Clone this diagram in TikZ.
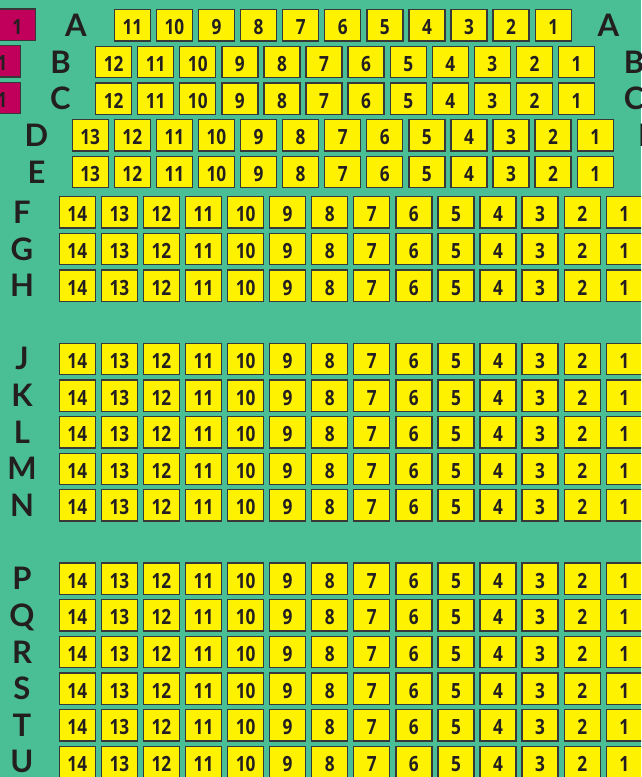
\documentclass[tikz,border=0pt]{standalone}
\usepackage{fontspec}
\usepackage{graphicx}
\setmainfont{Lato}
\newfontfamily\seatfont{Open Sans}
\definecolor{bg}{HTML}{4ABF95}
\definecolor{seaty}{HTML}{FFF200}
\definecolor{seatm}{HTML}{C0005A}
\definecolor{edge}{HTML}{383838}
\definecolor{ink}{HTML}{231F20}
\tikzset{
  seatbox/.style={draw=edge, line width=1.3pt, fill=seaty, minimum width=36pt, minimum height=31.3pt,
    inner sep=0pt, outer sep=0pt, text height=19pt, text depth=0pt, text=ink,
    font=\seatfont\fontsize{21}{21}\selectfont\bfseries},
  vipbox/.style={seatbox, fill=seatm},
  rowlbl/.style={anchor=base, inner sep=0pt, text=ink, font=\fontsize{31}{31}\selectfont\bfseries},
}
\newcommand{\seatnum}[1]{\scalebox{0.82}[1]{#1}}
\begin{document}
\begin{tikzpicture}[x=1pt,y=-1pt]
\fill[bg] (0,0) rectangle (641,777);
\useasboundingbox (0,0) rectangle (641,777);
\clip (0,0) rectangle (641,777);
% reserved seats (left, partly cut off)
\node[vipbox] (vA) at (17.2,24.5) {\seatnum{1}};
\node[vipbox] (vB) at (2.2,61.2) {\seatnum{1}};
\node[vipbox] (vC) at (2.2,97.9) {\seatnum{1}};
% seat rows: row / top / seats / left x of seat 1 / left label x / right label x
\foreach \r/\yt/\n/\xo/\lx/\rx in {
  A/9.3/11/534.7/76/608.3,
  B/45.9/12/558/60.5/634,
  C/82.6/12/558/60.5/634,
  D/119.3/13/576.7/36.5/650,
  E/156/13/576.7/36.5/650,
  F/196.3/14/605.8/22/700,
  G/232.93/14/605.8/22/700,
  H/269.56/14/605.8/22/700,
  J/342.82/14/605.8/22/700,
  K/379.45/14/605.8/22/700,
  L/416.08/14/605.8/22/700,
  M/452.71/14/605.8/22/700,
  N/489.34/14/605.8/22/700,
  P/562.6/14/605.8/22/700,
  Q/599.23/14/605.8/22/700,
  R/635.86/14/605.8/22/700,
  S/672.49/14/605.8/22/700,
  T/709.12/14/605.8/22/700,
  U/745.75/14/605.8/22/700}{
  \foreach \k in {1,...,\n}{
    \node[seatbox] (s\r\k) at ({\xo+18.5-(\k-1)*42.08},{\yt+16.15}) {\seatnum{\k}};
  }
  \node[rowlbl] (l\r) at (\lx,{\yt+27.15}) {\r};
  \node[rowlbl] (r\r) at (\rx,{\yt+27.15}) {\r};
}
\end{tikzpicture}
\end{document}
